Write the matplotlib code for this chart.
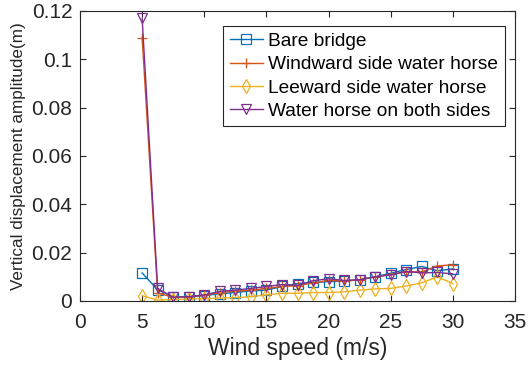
import matplotlib
matplotlib.use("Agg")
import matplotlib.pyplot as plt
import numpy as np

plt.rcParams["font.family"] = ["Liberation Sans", "DejaVu Sans"]

# wind speed (m/s)
wind_speed = [5, 6.25, 7.5, 8.75, 10, 11.25, 12.5, 13.75, 15, 16.25, 17.5,
              18.75, 20, 21.25, 22.5, 23.75, 25, 26.25, 27.5, 28.75, 30]

bare_bridge = [0.0116, 0.0046, 0.0018, 0.0017, 0.0022, 0.0030, 0.0035, 0.0042,
               0.0045, 0.0060, 0.0072, 0.0077, 0.0080, 0.0082, 0.0088, 0.0100,
               0.0115, 0.0130, 0.0143, 0.0125, 0.0133]
windward = [0.109, 0.0033, 0.0015, 0.0018, 0.0024, 0.0035, 0.0040, 0.0045,
            0.0052, 0.0060, 0.0063, 0.0075, 0.0085, 0.0082, 0.0088, 0.0100,
            0.0110, 0.0122, 0.0120, 0.0145, 0.0150]
leeward = [0.0022, 0.0004, 0.0006, 0.0008, 0.0010, 0.0012, 0.0014, 0.0018,
           0.0025, 0.0032, 0.0032, 0.0035, 0.0035, 0.0038, 0.0045, 0.0050,
           0.0052, 0.0062, 0.0075, 0.0100, 0.0072]
both_sides = [0.117, 0.0052, 0.0015, 0.0018, 0.0025, 0.0040, 0.0045, 0.0052,
              0.0060, 0.0068, 0.0065, 0.0084, 0.0092, 0.0085, 0.0088, 0.0100,
              0.0108, 0.0122, 0.0116, 0.0118, 0.0112]

series = [
    (bare_bridge, "Bare bridge", "#0072BD", "s"),
    (windward, "Windward side water horse", "#D95319", "+"),
    (leeward, "Leeward side water horse", "#EDB120", "d"),
    (both_sides, "Water horse on both sides", "#7E2F8E", "v"),
]

fig = plt.figure(figsize=(5.28, 3.71), dpi=100)
ax = fig.add_axes([0.1515, 0.1887, 0.8239, 0.7817])

for vals, label, color, marker in series:
    ax.plot(wind_speed, vals, color=color, marker=marker, markersize=7,
            markerfacecolor="none", markeredgewidth=0.9, linewidth=1.0,
            label=label)

ax.set_xlim(0, 35)
ax.set_ylim(0, 0.12)
ax.set_xticks(np.arange(0, 36, 5))
ax.set_yticks([0, 0.02, 0.04, 0.06, 0.08, 0.1, 0.12])
ax.set_yticklabels(["0", "0.02", "0.04", "0.06", "0.08", "0.1", "0.12"])
ax.tick_params(direction="in", top=True, right=True, length=4, width=0.8,
               labelsize=15, colors="#262626")
ax.tick_params(axis="x", pad=9)
ax.tick_params(axis="y", pad=5.5)
for s in ax.spines.values():
    s.set_color("#262626")
    s.set_linewidth(0.8)

ax.set_xlabel("Wind speed (m/s)", fontsize=16.5, color="#262626", labelpad=3)
ax.set_ylabel("Vertical displacement amplitude(m)", fontsize=12.3,
              color="#262626", labelpad=4)

leg = ax.legend(loc="upper right", bbox_to_anchor=(0.977, 0.948),
                borderaxespad=0, fontsize=13.8, fancybox=False,
                edgecolor="#262626", framealpha=1, handlelength=1.7,
                handletextpad=0.3, borderpad=0.35, labelspacing=0.3)
leg.get_frame().set_linewidth(0.8)

fig.savefig("out.png", dpi=100)
